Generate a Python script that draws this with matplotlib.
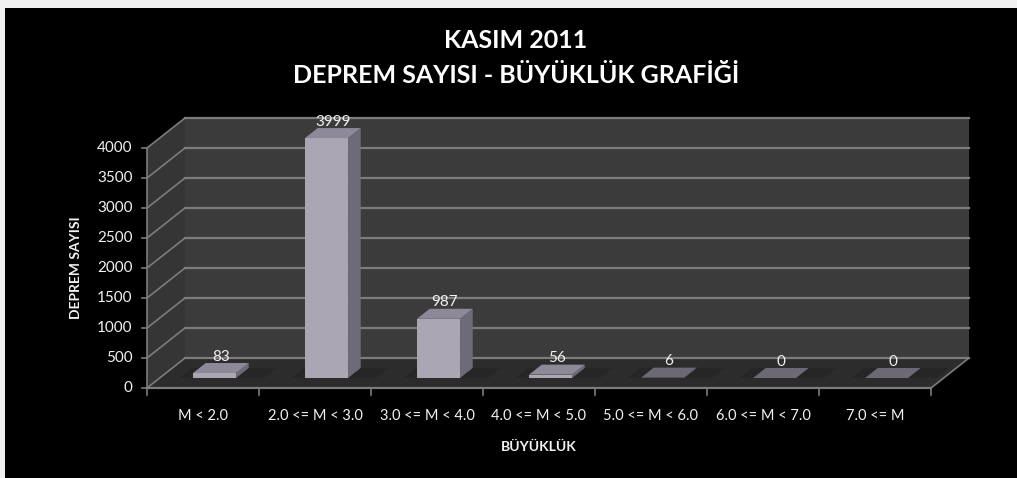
import matplotlib
matplotlib.use("Agg")
import matplotlib.pyplot as plt
from matplotlib.patches import Polygon

# veriler
kategoriler = ["M < 2.0", "2.0 <= M < 3.0", "3.0 <= M < 4.0", "4.0 <= M < 5.0",
               "5.0 <= M < 6.0", "6.0 <= M < 7.0", "7.0 <= M"]
deprem_sayisi = [83, 3999, 987, 56, 6, 0, 0]
y_ticks = [0, 500, 1000, 1500, 2000, 2500, 3000, 3500, 4000]

baslik = "KASIM 2011\nDEPREM SAYISI - BÜYÜKLÜK GRAFİĞİ"
x_etiket = "BÜYÜKLÜK"
y_etiket = "DEPREM SAYISI"

plt.rcParams['font.family'] = ['Lato', 'DejaVu Sans']

# renkler
duvar = '#3b3b3b'
yan_duvar = '#353535'
zemin = '#2c2c2c'
izgara = '#7c7c7c'
on_yuz = '#aaa6b4'
yan_yuz = '#6e6b78'
ust_yuz = '#8d8999'
yazi = '#f2f2f2'

fig = plt.figure(figsize=(10.17, 4.78), dpi=100, facecolor='#f0f0f0')
ax = fig.add_axes([5 / 1017, 0, 1012 / 1017, 470 / 478])
ax.set_facecolor('black')
# piksel olcegi: 112 px / kategori, 240 px / 4000
ax.set_xlim((5 - 147) / 112, (1017 - 147) / 112)
ax.set_ylim(-90 * 4000 / 240, 380 * 4000 / 240)
ax.set_xticks([])
ax.set_yticks([])
for s in ax.spines.values():
    s.set_visible(False)

n = len(kategoriler)
ymax = y_ticks[-1]
ddx, ddy = 38 / 112, 500  # derinlik kaydirmasi

# duvarlar ve zemin
ax.add_patch(Polygon([(ddx, ddy), (n + ddx, ddy), (n + ddx, ymax + ddy), (ddx, ymax + ddy)],
                     closed=True, fc=duvar, ec='none', zorder=1))
ax.add_patch(Polygon([(0, 0), (ddx, ddy), (ddx, ymax + ddy), (0, ymax)],
                     closed=True, fc=yan_duvar, ec='none', zorder=1))
ax.add_patch(Polygon([(0, 0), (n, 0), (n + ddx, ddy), (ddx, ddy)],
                     closed=True, fc=zemin, ec='none', zorder=1))

# izgara cizgileri
for v in y_ticks:
    ax.plot([ddx, n + ddx], [v + ddy, v + ddy], color=izgara, lw=1.6, zorder=2)
    ax.plot([0, ddx], [v, v + ddy], color=izgara, lw=1.2, zorder=2)
    ax.plot([-0.045, 0], [v, v], color=izgara, lw=1.2, zorder=2)
    ax.text(-0.13, v, str(v), color=yazi, fontsize=11, ha='right', va='center')

# eksen cizgileri
ax.plot([0, 0], [0, ymax], color=izgara, lw=1.2, zorder=2)
ax.plot([0, n], [0, 0], color=izgara, lw=1.6, zorder=2)
ax.plot([n, n + ddx], [0, ddy], color=izgara, lw=1.2, zorder=2)
for i in range(n + 1):
    ax.plot([i, i], [0, -110], color=izgara, lw=1.2, zorder=2)

# cubuklar
w = 43 / 112
for i, v in enumerate(deprem_sayisi):
    bx, by = ddx / 3, ddy / 3
    x0 = i + 0.5 - w / 2 - 0.01
    x1 = x0 + w
    # golge
    ax.add_patch(Polygon([(x0 - 0.12 + bx, by), (x1 + bx + 0.25, by), (x1 + 2 * bx + 0.25, 2 * by),
                          (x0 - 0.12 + 2 * bx, 2 * by)], closed=True, fc='#1c1c1c', ec='none',
                         alpha=0.35, zorder=2))
    ax.add_patch(Polygon([(x0 + bx, by + v), (x1 + bx, by + v), (x1 + 2 * bx, 2 * by + v),
                          (x0 + 2 * bx, 2 * by + v)], closed=True,
                         fc=ust_yuz if v > 10 else '#6c6975', ec='none', zorder=4))
    if v > 0:
        ax.add_patch(Polygon([(x1 + bx, by), (x1 + 2 * bx, 2 * by), (x1 + 2 * bx, 2 * by + v),
                              (x1 + bx, by + v)], closed=True, fc=yan_yuz, ec='none', zorder=3))
        ax.add_patch(Polygon([(x0 + bx, by), (x1 + bx, by), (x1 + bx, by + v), (x0 + bx, by + v)],
                             closed=True, fc=on_yuz, ec='none', zorder=3))
    ax.text(x0 + w / 2 + 1.5 * bx, v + 2 * by - 10, str(v), color=yazi, fontsize=11,
            ha='center', va='bottom', zorder=5)

# kategori etiketleri
for i, k in enumerate(kategoriler):
    ax.text(i + 0.5, -470, k, color=yazi, fontsize=10.5, ha='center', va='center')

ax.text(n / 2, -985, x_etiket, color=yazi, fontsize=10, fontweight='bold',
        ha='center', va='center')
ax.text(-0.635, 2000, y_etiket, color=yazi, fontsize=10, fontweight='bold',
        ha='center', va='center', rotation=90)
ax.text((516 - 147) / 112, (388 - 58) * 4000 / 240, baslik, color='white', fontsize=18,
        fontweight='bold', ha='center', va='center', linespacing=1.6)

fig.savefig("out.png", dpi=100, facecolor=fig.get_facecolor())
